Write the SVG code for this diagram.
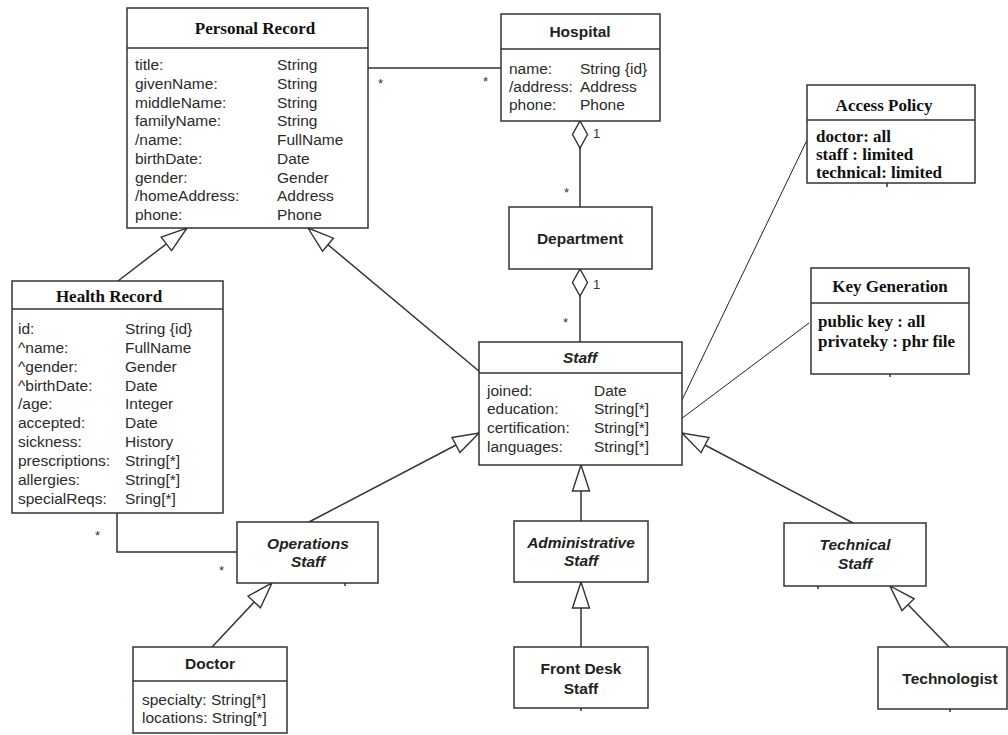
<svg xmlns="http://www.w3.org/2000/svg" width="1008" height="735" viewBox="0 0 1008 735">
  <defs>
    <!-- hollow generalization triangle, tip at line end -->
    <marker id="gen" markerUnits="userSpaceOnUse" markerWidth="28" markerHeight="19" refX="26" refY="8.5" orient="auto" overflow="visible">
      <path d="M0,0 L26,8.5 L0,17 Z" fill="#fff" stroke="#333" stroke-width="1.4"/>
    </marker>
    <!-- hollow aggregation diamond, at line start -->
    <marker id="agg" markerUnits="userSpaceOnUse" markerWidth="29" markerHeight="17" refX="0" refY="7.5" orient="auto" overflow="visible">
      <path d="M0,7.5 L13.5,0 L27,7.5 L13.5,15 Z" fill="#fff" stroke="#333" stroke-width="1.4"/>
    </marker>
  </defs>
  <style>
    .box { fill: #fff; stroke: #333; stroke-width: 1.5; }
    .sep { stroke: #333; stroke-width: 1.5; }
    .ln { fill: none; stroke: #333; stroke-width: 1.5; }
    .note { fill: none; stroke: #222; stroke-width: 1; }
    .tick { stroke: #333; stroke-width: 1.5; }
    .attr { font-family: "Liberation Sans", Arial, sans-serif; font-size: 15.5px; fill: #2b2b2b; }
    .name { font-family: "Liberation Sans", Arial, sans-serif; font-size: 15.5px; font-weight: bold; fill: #222; text-anchor: middle; }
    .abs { font-style: italic; }
    .stitle { font-family: "Liberation Serif", "Times New Roman", serif; font-size: 17px; font-weight: bold; fill: #111; text-anchor: middle; }
    .sattr { font-family: "Liberation Serif", "Times New Roman", serif; font-size: 17px; font-weight: bold; fill: #111; }
    .mult { font-family: "Liberation Sans", Arial, sans-serif; font-size: 13px; fill: #333; }
  </style>

  <rect x="0" y="0" width="1008" height="735" fill="#fff"/>

  <!-- connectors -->
  <g id="connectors">
    <!-- Personal Record - Hospital -->
    <line class="ln" x1="368" y1="68" x2="501" y2="68"/>
    <text class="mult" x="378" y="88">*</text>
    <text class="mult" x="483" y="86">*</text>
    <!-- Hospital <>- Department -->
    <line class="ln" x1="580" y1="121" x2="580" y2="207" marker-start="url(#agg)"/>
    <text class="mult" x="593" y="138">1</text>
    <text class="mult" x="564" y="197">*</text>
    <!-- Department <>- Staff -->
    <line class="ln" x1="580" y1="269" x2="580" y2="342" marker-start="url(#agg)"/>
    <text class="mult" x="593" y="289">1</text>
    <text class="mult" x="563" y="327">*</text>
    <!-- generalizations -->
    <line class="ln" x1="118" y1="281" x2="187" y2="228" marker-end="url(#gen)"/>
    <line class="ln" x1="480" y1="372" x2="308" y2="228" marker-end="url(#gen)"/>
    <line class="ln" x1="309" y1="522" x2="479" y2="433" marker-end="url(#gen)"/>
    <line class="ln" x1="581" y1="521" x2="581" y2="465" marker-end="url(#gen)"/>
    <line class="ln" x1="853" y1="523" x2="682" y2="433" marker-end="url(#gen)"/>
    <line class="ln" x1="212" y1="647" x2="272" y2="583" marker-end="url(#gen)"/>
    <line class="ln" x1="581" y1="647" x2="581" y2="582" marker-end="url(#gen)"/>
    <line class="ln" x1="949" y1="647" x2="890" y2="586" marker-end="url(#gen)"/>
    <!-- Health Record - Operations Staff -->
    <polyline class="ln" points="117,513 117,552 237,552"/>
    <text class="mult" x="95" y="540">*</text>
    <text class="mult" x="219" y="575">*</text>
    <!-- note links -->
    <line class="note" x1="682" y1="400" x2="808" y2="138"/>
    <line class="note" x1="677" y1="422" x2="809" y2="323"/>
  </g>

  <!-- Personal Record -->
  <g id="personal-record">
    <rect class="box" x="127" y="8" width="241" height="220"/>
    <line class="sep" x1="127" y1="48" x2="368" y2="48"/>
    <text class="stitle" x="255" y="34">Personal Record</text>
    <g class="attr">
      <text x="135" y="70">title:</text><text x="277" y="70">String</text>
      <text x="135" y="88.75">givenName:</text><text x="277" y="88.75">String</text>
      <text x="135" y="107.5">middleName:</text><text x="277" y="107.5">String</text>
      <text x="135" y="126.25">familyName:</text><text x="277" y="126.25">String</text>
      <text x="135" y="145">/name:</text><text x="277" y="145">FullName</text>
      <text x="135" y="163.75">birthDate:</text><text x="277" y="163.75">Date</text>
      <text x="135" y="182.5">gender:</text><text x="277" y="182.5">Gender</text>
      <text x="135" y="201.25">/homeAddress:</text><text x="277" y="201.25">Address</text>
      <text x="135" y="220">phone:</text><text x="277" y="220">Phone</text>
    </g>
  </g>

  <!-- Hospital -->
  <g id="hospital">
    <rect class="box" x="501" y="14" width="159" height="107"/>
    <line class="sep" x1="501" y1="49" x2="660" y2="49"/>
    <text class="name" x="580" y="37">Hospital</text>
    <g class="attr">
      <text x="509" y="73.5">name:</text><text x="580" y="73.5">String {id}</text>
      <text x="509" y="91.5">/address:</text><text x="580" y="91.5">Address</text>
      <text x="509" y="109.5">phone:</text><text x="580" y="109.5">Phone</text>
    </g>
  </g>

  <!-- Department -->
  <g id="department">
    <rect class="box" x="509" y="207" width="143" height="62"/>
    <text class="name" x="580" y="243.5">Department</text>
  </g>

  <!-- Access Policy -->
  <g id="access-policy">
    <rect class="box" x="807" y="85" width="168" height="98"/>
    <line class="sep" x1="807" y1="120" x2="975" y2="120"/>
    <text class="stitle" x="884" y="111">Access Policy</text>
    <text class="sattr" x="816" y="142">doctor: all</text>
    <text class="sattr" x="816" y="160">staff : limited</text>
    <text class="sattr" x="816" y="177.5">technical: limited</text>
    <line class="tick" x1="887" y1="183" x2="887" y2="187"/>
  </g>

  <!-- Key Generation -->
  <g id="key-generation">
    <rect class="box" x="811" y="268" width="158" height="106"/>
    <line class="sep" x1="811" y1="303" x2="969" y2="303"/>
    <text class="stitle" x="890" y="292">Key Generation</text>
    <text class="sattr" x="818" y="327">public key : all</text>
    <text class="sattr" x="818" y="347">privateky : phr file</text>
    <line class="tick" x1="890" y1="374" x2="890" y2="377"/>
  </g>

  <!-- Health Record -->
  <g id="health-record">
    <rect class="box" x="12" y="281" width="211" height="232"/>
    <line class="sep" x1="12" y1="309" x2="223" y2="309"/>
    <text class="stitle" x="109" y="302">Health Record</text>
    <g class="attr">
      <text x="18" y="334">id:</text><text x="125" y="334">String {id}</text>
      <text x="18" y="352.85">^name:</text><text x="125" y="352.85">FullName</text>
      <text x="18" y="371.7">^gender:</text><text x="125" y="371.7">Gender</text>
      <text x="18" y="390.55">^birthDate:</text><text x="125" y="390.55">Date</text>
      <text x="18" y="409.4">/age:</text><text x="125" y="409.4">Integer</text>
      <text x="18" y="428.25">accepted:</text><text x="125" y="428.25">Date</text>
      <text x="18" y="447.1">sickness:</text><text x="125" y="447.1">History</text>
      <text x="18" y="465.95">prescriptions:</text><text x="125" y="465.95">String[*]</text>
      <text x="18" y="484.8">allergies:</text><text x="125" y="484.8">String[*]</text>
      <text x="18" y="503.65">specialReqs:</text><text x="125" y="503.65">Sring[*]</text>
    </g>
  </g>

  <!-- Staff -->
  <g id="staff">
    <rect class="box" x="479" y="342" width="203" height="123"/>
    <line class="sep" x1="479" y1="373" x2="682" y2="373"/>
    <text class="name abs" x="580" y="362.5">Staff</text>
    <g class="attr">
      <text x="487" y="395.5">joined:</text><text x="594" y="395.5">Date</text>
      <text x="487" y="414">education:</text><text x="594" y="414">String[*]</text>
      <text x="487" y="433">certification:</text><text x="594" y="433">String[*]</text>
      <text x="487" y="451.5">languages:</text><text x="594" y="451.5">String[*]</text>
    </g>
  </g>

  <!-- Operations Staff -->
  <g id="operations-staff">
    <rect class="box" x="237" y="522" width="141" height="61"/>
    <text class="name abs" x="308" y="548.5">Operations</text>
    <text class="name abs" x="308" y="566.5">Staff</text>
    <line class="tick" x1="345" y1="583" x2="345" y2="586"/>
  </g>

  <!-- Administrative Staff -->
  <g id="administrative-staff">
    <rect class="box" x="514" y="521" width="134" height="61"/>
    <text class="name abs" x="581" y="547.5">Administrative</text>
    <text class="name abs" x="581" y="565.5">Staff</text>
  </g>

  <!-- Technical Staff -->
  <g id="technical-staff">
    <rect class="box" x="784" y="523" width="142" height="63"/>
    <text class="name abs" x="855" y="549.5">Technical</text>
    <text class="name abs" x="855" y="568.5">Staff</text>
    <line class="tick" x1="818" y1="586" x2="818" y2="589"/>
  </g>

  <!-- Doctor -->
  <g id="doctor">
    <rect class="box" x="133" y="647" width="154" height="86"/>
    <line class="sep" x1="133" y1="681" x2="287" y2="681"/>
    <text class="name" x="210" y="668.5">Doctor</text>
    <g class="attr">
      <text x="142" y="704.5">specialty: String[*]</text>
      <text x="142" y="722.5">locations: String[*]</text>
    </g>
  </g>

  <!-- Front Desk Staff -->
  <g id="front-desk-staff">
    <rect class="box" x="514" y="647" width="134" height="61"/>
    <text class="name" x="581" y="673.5">Front Desk</text>
    <text class="name" x="581" y="693.5">Staff</text>
    <line class="tick" x1="581" y1="708" x2="581" y2="711"/>
  </g>

  <!-- Technologist -->
  <g id="technologist">
    <rect class="box" x="878" y="647" width="129" height="62"/>
    <text class="name" x="950" y="683.5">Technologist</text>
    <line class="tick" x1="950" y1="709" x2="950" y2="712"/>
  </g>
</svg>
